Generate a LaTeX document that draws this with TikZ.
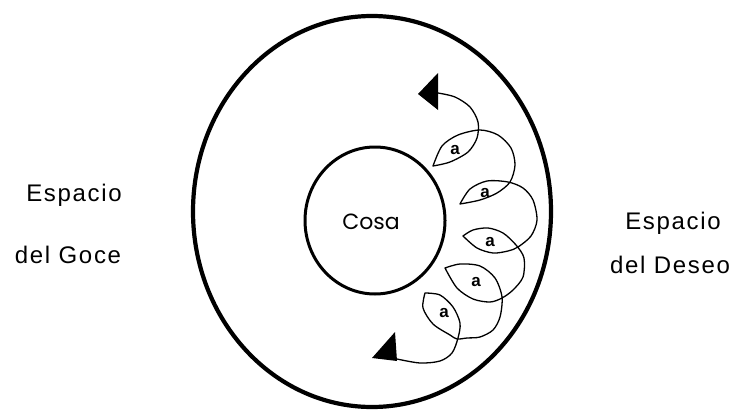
\documentclass[tikz,border=0pt]{standalone}
\usepackage{fontspec}
\setmainfont{Liberation Sans}
\newfontfamily\spacefont[LetterSpace=7]{Liberation Sans}
\newfontfamily\cosafont{Poppins}
\usetikzlibrary{arrows.meta,positioning}

\begin{document}
\begin{tikzpicture}[
  x=1pt, y=-1pt,
  ring/.style={line width=4.2pt},
  core/.style={line width=3pt},
  coil/.style={line width=1.3pt, line join=round, line cap=round},
  spacelbl/.style={font=\spacefont\fontsize{24}{26}\selectfont, inner sep=0pt, anchor=base},
  eye/.style={font=\bfseries\fontsize{17}{17}\selectfont, inner sep=0pt},
  arrowhead/.style={fill=black},
]
\useasboundingbox (0,0) rectangle (735,412);

% Circles
\draw[ring] (372,211.5) ellipse [x radius=179pt, y radius=195.5pt];
\draw[core] (375,220.5) ellipse [x radius=70pt, y radius=73.5pt];
\node[font=\cosafont\fontsize{22}{24}\selectfont, inner sep=0pt, anchor=base] (cosa) at (371,229) {Cosa};

% Labels
\node[spacelbl] (goce1) at (74,201) {Espacio};
\node[spacelbl] (goce2) at (68,263) {del Goce};
\node[spacelbl] (deseo1) at (673,229) {Espacio};
\node[spacelbl] (deseo2) at (670,273) {del Deseo};

% Coil of loops
\coordinate (topend) at (438,93);
\coordinate (botend) at (397,359);
\draw[coil]
  plot[smooth] coordinates {(topend) (455,97) (470,107) (478,122) (477,138) (468,152) (450,162) (433,166)}
  -- plot[smooth] coordinates {(433,166) (442,146) (458,135) (480,130) (498,135) (511,148) (515,165) (510,182) (497,193) (480,200) (460,204)}
  -- plot[smooth] coordinates {(460,204) (470,189) (487,181) (508,182) (523,188) (533,200) (537,220) (531,236) (518,247) (508,251) (493,253) (477,248) (463,236)}
  -- plot[smooth] coordinates {(463,236) (473,230) (488,228) (503,233) (516,245) (524,258) (523,277) (513,290) (502,298) (490,302) (473,299) (457,288) (445,268)}
  -- plot[smooth] coordinates {(445,268) (460,264) (480,266) (495,278) (502,297) (500,317) (493,330) (480,337) (467,338) (457,339) (450,335) (433,324) (423,308) (425,293)}
  -- plot[smooth] coordinates {(425,293) (440,295) (453,307) (460,323) (458,338) (452,353) (440,361) (420,363) (botend)};

% Arrow heads
\fill[arrowhead] (438,73) -- (418,94) -- (438,110) -- cycle;
\fill[arrowhead] (395,332) -- (372,358) -- (397,361) -- cycle;

% Eyes
\node[eye] (a1) at (455,150) {a};
\node[eye] (a2) at (485,193) {a};
\node[eye] (a3) at (490,242) {a};
\node[eye] (a4) at (476,282) {a};
\node[eye] (a5) at (444,313) {a};

\end{tikzpicture}
\end{document}
